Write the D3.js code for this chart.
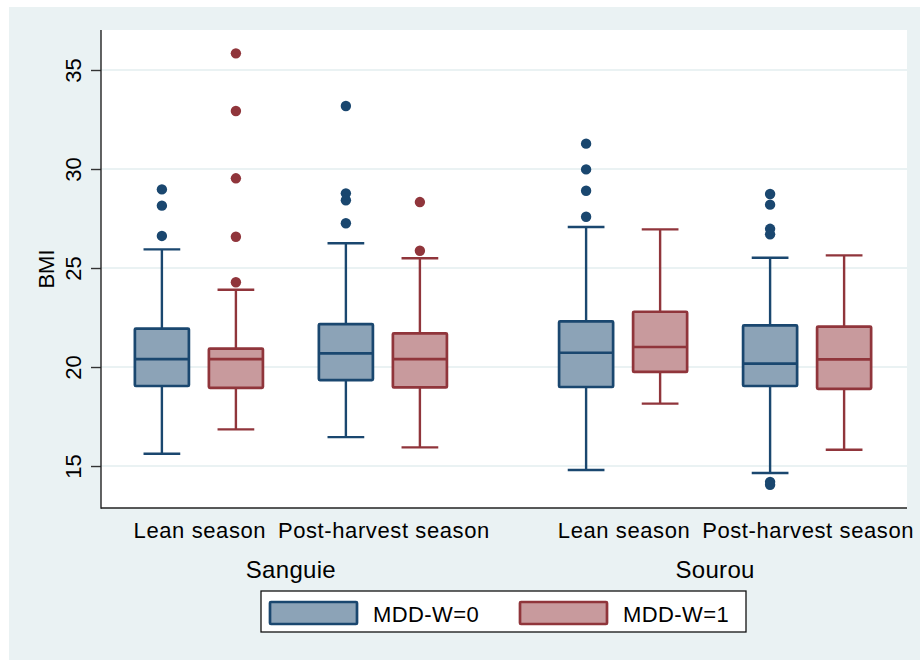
<!DOCTYPE html>
<html>
<head>
<meta charset="utf-8">
<script src="https://cdn.jsdelivr.net/npm/d3@7"></script>
<style>
  html, body { margin: 0; padding: 0; background: #ffffff; }
  svg { display: block; }
  text { font-family: "Liberation Sans", Arial, Helvetica, sans-serif; fill: #000; }
</style>
</head>
<body>
<svg id="chart" width="920" height="660"></svg>
<script>
// ---------------- data ----------------
const districts = ["Sanguie", "Sourou"];
const seasons = ["Lean season", "Post-harvest season"];
const groups = ["MDD-W=0", "MDD-W=1"];
const yTicks = [15, 20, 25, 30, 35];

// order of boxes: district > season > group
const boxDistrict = ["Sanguie", "Sanguie", "Sanguie", "Sanguie", "Sourou", "Sourou", "Sourou", "Sourou"];
const boxSeason = ["Lean season", "Lean season", "Post-harvest season", "Post-harvest season",
                   "Lean season", "Lean season", "Post-harvest season", "Post-harvest season"];
const boxGroup = ["MDD-W=0", "MDD-W=1", "MDD-W=0", "MDD-W=1", "MDD-W=0", "MDD-W=1", "MDD-W=0", "MDD-W=1"];

const lowerWhisker = [15.62, 16.85, 16.46, 15.94, 14.80, 18.15, 14.65, 15.82];
const q1           = [19.04, 18.95, 19.34, 18.97, 18.99, 19.75, 19.04, 18.90];
const median       = [20.40, 20.40, 20.69, 20.40, 20.72, 21.01, 20.17, 20.39];
const q3           = [21.94, 20.93, 22.17, 21.70, 22.30, 22.79, 22.10, 22.04];
const upperWhisker = [25.94, 23.90, 26.25, 25.49, 27.07, 26.95, 25.52, 25.64];
const outliers = [
  [28.97, 28.15, 26.62],
  [35.84, 32.93, 29.53, 26.58, 24.28],
  [33.18, 28.77, 28.42, 27.26],
  [28.33, 25.87],
  [31.28, 29.98, 28.90, 27.59],
  [],
  [28.74, 28.20, 26.98, 26.70, 14.20, 14.05],
  []
];

// ---------------- styles ----------------
const strokeCol = { "MDD-W=0": "#1a476f", "MDD-W=1": "#90353b" };
const fillCol = { "MDD-W=0": "#8ca3b7", "MDD-W=1": "#c89a9d" };
const bgCol = "#eaf2f3";

const svg = d3.select("#chart");

// outer graph region
svg.append("rect").attr("x", 9).attr("y", 7).attr("width", 911).attr("height", 653).attr("fill", bgCol);

const plot = { left: 101, right: 907, top: 30, bottom: 508 };
svg.append("rect").attr("x", plot.left).attr("y", plot.top)
  .attr("width", plot.right - plot.left).attr("height", plot.bottom - plot.top).attr("fill", "#ffffff");

// ---------------- scales ----------------
const y = d3.scaleLinear().domain([12.88, 37.02]).range([plot.bottom, plot.top]);

const xDistrict = d3.scaleBand().domain(districts).range([100, 906]).paddingInner(0.1).paddingOuter(0);
const xSeason = d3.scaleBand().domain(seasons).range([0, xDistrict.bandwidth()]).paddingInner(0).paddingOuter(0.0375);
const xGroup = d3.scaleBand().domain(groups).range([0, xSeason.bandwidth()]).paddingInner(0.27).paddingOuter(0.378);

// gridlines
svg.append("g").selectAll("line").data(yTicks).join("line")
  .attr("x1", plot.left).attr("x2", plot.right)
  .attr("y1", d => y(d)).attr("y2", d => y(d))
  .attr("stroke", bgCol).attr("stroke-width", 2);

// ---------------- boxes ----------------
const boxes = boxDistrict.map((d, i) => ({
  district: d, season: boxSeason[i], group: boxGroup[i],
  lo: lowerWhisker[i], q1: q1[i], med: median[i], q3: q3[i], hi: upperWhisker[i], out: outliers[i]
}));

const bw = xGroup.bandwidth();
const capW = bw * 0.68;
const bx = b => xDistrict(b.district) + xSeason(b.season) + xGroup(b.group);

const gBox = svg.append("g");
boxes.forEach(b => {
  const x0 = bx(b), cx = x0 + bw / 2;
  const col = strokeCol[b.group];
  const g = gBox.append("g");
  // whiskers
  g.append("line").attr("x1", cx).attr("x2", cx).attr("y1", y(b.q3)).attr("y2", y(b.hi))
    .attr("stroke", col).attr("stroke-width", 2.4);
  g.append("line").attr("x1", cx).attr("x2", cx).attr("y1", y(b.q1)).attr("y2", y(b.lo))
    .attr("stroke", col).attr("stroke-width", 2.4);
  // caps
  [b.hi, b.lo].forEach(v => {
    g.append("line").attr("x1", cx - capW / 2).attr("x2", cx + capW / 2).attr("y1", y(v)).attr("y2", y(v))
      .attr("stroke", col).attr("stroke-width", 2.4);
  });
  // box
  g.append("rect").attr("x", x0).attr("y", y(b.q3)).attr("width", bw).attr("height", y(b.q1) - y(b.q3))
    .attr("fill", fillCol[b.group]).attr("stroke", col).attr("stroke-width", 2.7)
    .attr("stroke-linejoin", "round").attr("rx", 1);
  // median
  g.append("line").attr("x1", x0).attr("x2", x0 + bw).attr("y1", y(b.med)).attr("y2", y(b.med))
    .attr("stroke", col).attr("stroke-width", 2.7);
  // outliers
  g.selectAll("circle").data(b.out).join("circle")
    .attr("cx", cx).attr("cy", v => y(v)).attr("r", 5.2).attr("fill", col);
});

// ---------------- axes ----------------
const yAxis = d3.axisLeft(y).tickValues(yTicks).tickSize(10).tickPadding(0).tickFormat(d3.format("d"));
const gy = svg.append("g").attr("transform", `translate(${plot.left},0)`).call(yAxis);
gy.select(".domain").remove();
gy.selectAll(".tick line").attr("stroke", "#333").attr("stroke-width", 1.4);
gy.selectAll(".tick text")
  .attr("transform", "translate(-20,0) rotate(-90)")
  .attr("x", 0).attr("y", 0).attr("dy", 0)
  .attr("text-anchor", "middle")
  .style("font-size", "22px").style("font-family", "'Liberation Sans', Arial, sans-serif").attr("fill", "#000");

svg.append("line").attr("x1", plot.left).attr("x2", plot.left).attr("y1", plot.top).attr("y2", plot.bottom + 0.7)
  .attr("stroke", "#222").attr("stroke-width", 1.4);
svg.append("line").attr("x1", plot.left).attr("x2", plot.right).attr("y1", plot.bottom).attr("y2", plot.bottom)
  .attr("stroke", "#222").attr("stroke-width", 1.4);

// y title
svg.append("text").attr("transform", `translate(54,${(plot.top + plot.bottom) / 2}) rotate(-90)`)
  .attr("text-anchor", "middle").style("font-size", "22px").text("BMI");

// season labels
districts.forEach(d => {
  seasons.forEach(s => {
    svg.append("text")
      .attr("x", xDistrict(d) + xSeason(s) + xSeason.bandwidth() / 2 + 1)
      .attr("y", 538)
      .attr("text-anchor", "middle")
      .style("font-size", "22px").style("letter-spacing", "0.6px")
      .text(s);
  });
  svg.append("text")
    .attr("x", xDistrict(d) + xDistrict.bandwidth() / 2)
    .attr("y", 578)
    .attr("text-anchor", "middle")
    .style("font-size", "24px").style("letter-spacing", "0.3px")
    .text(d);
});

// ---------------- legend ----------------
const lg = svg.append("g");
lg.append("rect").attr("x", 261).attr("y", 591).attr("width", 485).attr("height", 41)
  .attr("fill", "#fff").attr("stroke", "#111").attr("stroke-width", 1.3);
const legendX = d3.scalePoint().domain(groups).range([270, 520]);
groups.forEach(gname => {
  const lx = legendX(gname);
  lg.append("rect").attr("x", lx).attr("y", 602).attr("width", 87).attr("height", 22)
    .attr("fill", fillCol[gname]).attr("stroke", strokeCol[gname]).attr("stroke-width", 2.7)
    .attr("stroke-linejoin", "round").attr("rx", 1);
  lg.append("text").attr("x", lx + 103).attr("y", 622)
    .style("font-size", "22px").style("letter-spacing", "0.4px").text(gname);
});
</script>
</body>
</html>
